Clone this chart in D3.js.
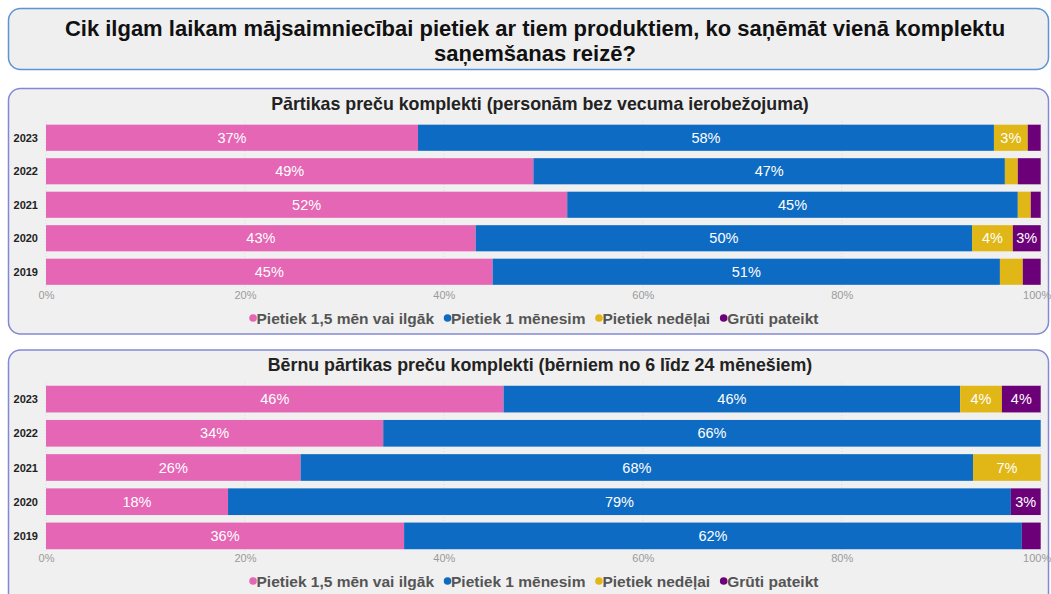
<!DOCTYPE html>
<html><head><meta charset="utf-8">
<script src="https://cdn.jsdelivr.net/npm/d3@7"></script>
<style>
html,body{margin:0;padding:0;background:#fff;}
svg{display:block;font-family:"Liberation Sans",Arial,sans-serif;}
</style></head><body>
<svg id="c" width="1051" height="594"></svg>
<script>
const years = ["2023","2022","2021","2020","2019"];
const seriesNames = ["Pietiek 1,5 mēn vai ilgāk","Pietiek 1 mēnesim","Pietiek nedēļai","Grūti pateikt"];
const seriesColors = ["#e466b4","#0e6bc3","#e0b717","#6b0079"];
// Panel 1: Pārtikas preču komplekti
const food_long   = [37.4, 49.0, 52.4, 43.2, 44.9];
const food_month  = [57.9, 47.4, 45.3, 49.9, 51.0];
const food_week   = [3.4, 1.3, 1.3, 4.1, 2.3];
const food_hard   = [1.3, 2.3, 1.0, 2.8, 1.8];
// Panel 2: Bērnu pārtikas preču komplekti
const baby_long   = [46.0, 33.9, 25.6, 18.3, 36.0];
const baby_month  = [45.9, 66.1, 67.6, 78.7, 62.1];
const baby_week   = [4.2, 0, 6.8, 0, 0];
const baby_hard   = [3.9, 0, 0, 3.0, 1.9];
const tickValues = [0, 20, 40, 60, 80, 100];
const tickLabels = ["0%","20%","40%","60%","80%","100%"];
const mainTitle = ["Cik ilgam laikam mājsaimniecībai pietiek ar tiem produktiem, ko saņēmāt vienā komplektu","saņemšanas reizē?"];
const panelTitles = ["Pārtikas preču komplekti (personām bez vecuma ierobežojuma)","Bērnu pārtikas preču komplekti (bērniem no 6 līdz 24 mēnešiem)"];

const svg = d3.select("#c");
svg.append("rect").attr("width",1051).attr("height",594).attr("fill","#fff");

// Title box
svg.append("rect").attr("x",8.5).attr("y",8.5).attr("width",1040).attr("height",61).attr("rx",12)
  .attr("fill","#efefef").attr("stroke","#5a95d6").attr("stroke-width",1.5);
svg.selectAll("text.mt").data(mainTitle).join("text").attr("class","mt")
  .attr("x",535).attr("y",(d,i)=>28+i*25).attr("text-anchor","middle").attr("dominant-baseline","central")
  .attr("font-size",22).attr("font-weight","bold").attr("fill","#111").text(d=>d);

const x = d3.scaleLinear().domain([0,100]).range([46,1040.7]);

function panel(top, bottom, title, rowsTop, rowsBottom, tickY, legendY, cols){
  svg.append("rect").attr("x",8.5).attr("y",top).attr("width",1040).attr("height",bottom-top).attr("rx",12)
    .attr("fill","#f0f0f0").attr("stroke","#8388d6").attr("stroke-width",1.5);
  svg.append("text").attr("x",540).attr("y",top+15).attr("text-anchor","middle").attr("dominant-baseline","central")
    .attr("font-size",17.8).attr("font-weight","bold").attr("fill","#222").text(title);
  const y = d3.scaleBand().domain(years).range([rowsTop, rowsBottom]).paddingInner(0.22).paddingOuter(0.11);
  const g = svg.append("g");
  // faint grid
  g.selectAll("line.grid").data(tickValues).join("line")
    .attr("x1",d=>x(d)).attr("x2",d=>x(d)).attr("y1",rowsTop).attr("y2",rowsBottom)
    .attr("stroke","#dcdcdc").attr("stroke-dasharray","1,2");
  const rows = years.map((yr,i)=>({year:yr, s0:cols[0][i], s1:cols[1][i], s2:cols[2][i], s3:cols[3][i]}));
  const stack = d3.stack().keys(["s0","s1","s2","s3"])(rows);
  stack.forEach((layer,k)=>{
    layer.forEach(seg=>{
      const v = seg[1]-seg[0];
      if (v<=0) return;
      const yy = y(seg.data.year);
      g.append("rect").attr("x",x(seg[0])).attr("y",yy).attr("width",x(seg[1])-x(seg[0])).attr("height",y.bandwidth())
        .attr("fill",seriesColors[k]);
      if (v>=2.5){
        g.append("text").attr("x",(x(seg[0])+x(seg[1]))/2).attr("y",yy+y.bandwidth()/2)
          .attr("text-anchor","middle").attr("dominant-baseline","central")
          .attr("font-size",14.5).attr("fill","#fff").text(Math.round(v)+"%");
      }
    });
  });
  // year labels
  g.selectAll("text.yr").data(years).join("text").attr("class","yr")
    .attr("x",38).attr("y",d=>y(d)+y.bandwidth()/2).attr("text-anchor","end").attr("dominant-baseline","central")
    .attr("font-size",11).attr("font-weight","bold").attr("fill","#222").text(d=>d);
  // x axis
  const ax = d3.axisBottom(x).tickValues(tickValues).tickFormat((d,i)=>tickLabels[i]).tickSize(0);
  const axg = svg.append("g").attr("transform",`translate(0,${tickY-7})`).call(ax);
  axg.select(".domain").remove();
  axg.selectAll("text").attr("font-size",11).attr("fill","#9a9a9a").attr("font-family","Liberation Sans,Arial,sans-serif")
    .attr("text-anchor",(d,i)=>i===tickValues.length-1?"end":"middle")
    .attr("dx",(d,i)=>i===tickValues.length-1?"10":"0");
  // legend
  const lg = svg.append("g");
  const items = seriesNames.map((n,i)=>lg.append("text").attr("y",legendY).attr("dominant-baseline","central")
      .attr("font-size",15.5).attr("font-weight","bold").attr("fill","#555").text(n));
  const tw = items.map(t=>t.node().getComputedTextLength());
  const gap = 10, dotW = 7;
  const total = d3.sum(tw) + seriesNames.length*dotW + (seriesNames.length-1)*gap;
  let cx = 534 - total/2;
  items.forEach((t,i)=>{
    lg.append("circle").attr("cx",cx+3.5).attr("cy",legendY).attr("r",3.8).attr("fill",seriesColors[i]);
    t.attr("x",cx+dotW);
    cx += dotW + tw[i] + gap;
  });
}

panel(88.5, 334, panelTitles[0], 121, 288.5, 295, 318, [food_long, food_month, food_week, food_hard]);
panel(350, 610, panelTitles[1], 382, 553, 558, 581, [baby_long, baby_month, baby_week, baby_hard]);
</script>
</body></html>
